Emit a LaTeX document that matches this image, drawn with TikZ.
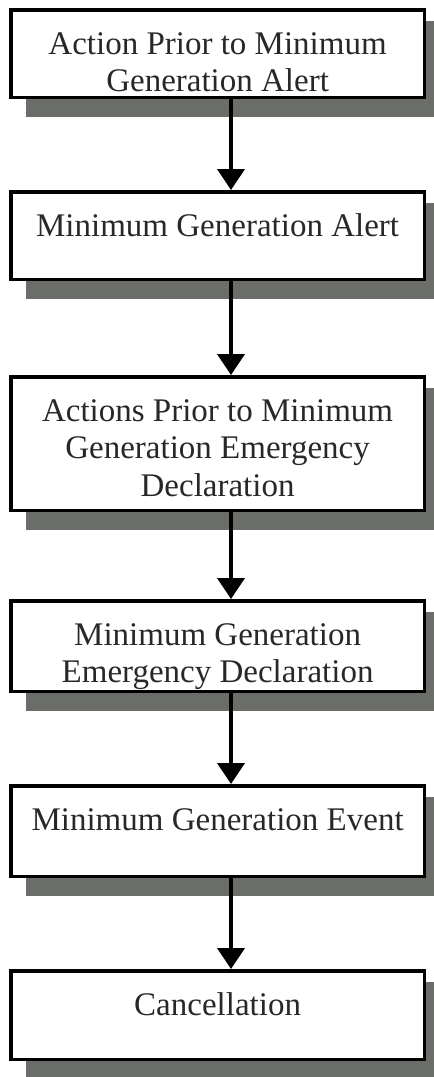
\documentclass[tikz,border=0pt]{standalone}
\usepackage{fontspec}
\setmainfont{Liberation Serif}
\usetikzlibrary{arrows.meta,backgrounds}

\definecolor{shadowfill}{RGB}{107,109,105}
\definecolor{inktext}{RGB}{40,40,40}

\tikzset{
  stagebox/.style={draw=black, line width=3.5pt, fill=white, rectangle,
    minimum width=413.3pt, inner sep=0pt},
  stagetext/.style={anchor=north, inner sep=0pt, align=center, text=inktext,
    font=\fontsize{33pt}{37.5pt}\selectfont},
  flowarrow/.style={line width=4pt, draw=black,
    -{Triangle[width=27pt,length=21pt]}},
  boxshadow/.style={fill=shadowfill, draw=none},
}

\begin{document}
\begin{tikzpicture}[x=1pt,y=-1pt]
  \useasboundingbox (0,0) rectangle (434,1077);

  % stage boxes
  \node[stagebox, minimum height=87.5pt]  (b1) at (217.6,53.5)  {};
  \node[stagebox, minimum height=87.5pt]  (b2) at (217.6,235.5) {};
  \node[stagebox, minimum height=133.5pt] (b3) at (217.6,443.5) {};
  \node[stagebox, minimum height=90.5pt]  (b4) at (217.6,646)   {};
  \node[stagebox, minimum height=90.5pt]  (b5) at (217.6,831)   {};
  \node[stagebox, minimum height=88.5pt]  (b6) at (217.6,1015)  {};

  % offset shadows behind the boxes
  \begin{scope}[on background layer]
    \foreach \b in {b1,b2,b3,b4,b5,b6}
      \fill[boxshadow] ([shift={(17,13)}]\b.north west) rectangle ([shift={(17,18)}]\b.south east);
  \end{scope}

  % box captions, set from the top of each box
  \node[stagetext] (t1) at ([yshift=-20pt]b1.north) {\strut Action Prior to Minimum\\\strut Generation Alert};
  \node[stagetext] (t2) at ([yshift=-20pt]b2.north) {\strut Minimum Generation Alert};
  \node[stagetext] (t3) at ([yshift=-20pt]b3.north) {\strut Actions Prior to Minimum\\\strut Generation Emergency\\\strut Declaration};
  \node[stagetext] (t4) at ([yshift=-20pt]b4.north) {\strut Minimum Generation\\\strut Emergency Declaration};
  \node[stagetext] (t5) at ([yshift=-20pt]b5.north) {\strut Minimum Generation Event};
  \node[stagetext] (t6) at ([yshift=-20pt]b6.north) {\strut Cancellation};

  % connectors
  \foreach \a/\c in {b1/b2,b2/b3,b3/b4,b4/b5,b5/b6}
    \draw[flowarrow] ([xshift=13.4pt]\a.south) -- ([xshift=13.4pt]\c.north);
\end{tikzpicture}
\end{document}
